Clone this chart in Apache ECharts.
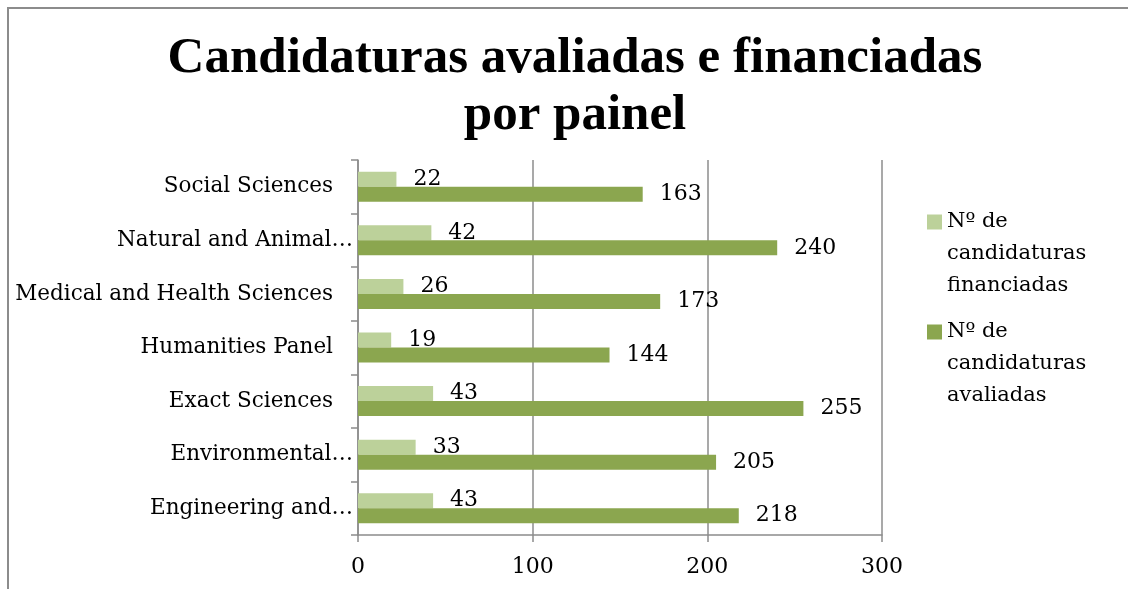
<!DOCTYPE html>
<html>
<head>
<meta charset="utf-8">
<script src="https://cdn.jsdelivr.net/npm/echarts@6/dist/echarts.min.js"></script>
<style>
  html, body { margin: 0; padding: 0; background: #fff; overflow: hidden; }
  #frame { position: absolute; left: 7px; top: 7px; width: 1300px; height: 700px; border: 2px solid #8c8c8c; }
  #main { position: absolute; left: 0; top: 0; width: 1128px; height: 589px; }
</style>
</head>
<body>
<div id="frame"></div>
<div id="main"></div>
<script>
// categorias (de baixo para cima)
var paineis = ['Engineering and…', 'Environmental…', 'Exact Sciences', 'Humanities Panel',
               'Medical and Health Sciences', 'Natural and Animal…', 'Social Sciences'];
var financiadas = [43, 33, 43, 19, 26, 42, 22];
var avaliadas = [218, 205, 255, 144, 173, 240, 163];
var xTicks = [0, 100, 200, 300];

var nomeFin = 'Nº de\ncandidaturas\nfinanciadas';
var nomeAva = 'Nº de\ncandidaturas\navaliadas';

var fonte = 'DejaVu Serif';

var myChart = echarts.init(document.getElementById('main'));

var option = {
    animation: false,
    title: {
        text: 'Candidaturas avaliadas e financiadas\npor painel',
        left: 570,
        textAlign: 'center',
        top: 25,
        textStyle: {
            fontFamily: 'Liberation Serif',
            fontWeight: 'bold',
            fontSize: 51,
            lineHeight: 57,
            color: '#000'
        }
    },
    grid: {
        left: 358,
        right: 246,
        top: 160,
        bottom: 54
    },
    legend: {
        orient: 'vertical',
        left: 922,
        top: 137,
        itemWidth: 15,
        itemHeight: 15,
        itemGap: -50,
        icon: 'rect',
        data: [nomeFin, nomeAva],
        // linhas vazias em cima para o quadrado ficar ao nivel da primeira linha
        formatter: function (n) { return '\n\n' + n; },
        textStyle: {
            fontFamily: fonte,
            fontSize: 21,
            lineHeight: 32,
            color: '#000'
        }
    },
    xAxis: {
        type: 'value',
        min: xTicks[0],
        max: xTicks[xTicks.length - 1],
        interval: 100,
        axisLine: { show: true, lineStyle: { color: '#8c8c8c', width: 1.5 } },
        axisTick: { show: true, length: 7, lineStyle: { color: '#8c8c8c', width: 1.5 } },
        splitLine: { show: true, lineStyle: { color: '#8c8c8c', width: 1.5 } },
        axisLabel: {
            margin: 21,
            fontFamily: fonte,
            fontSize: 22,
            color: '#000'
        }
    },
    yAxis: {
        type: 'category',
        data: paineis,
        axisLine: { show: true, lineStyle: { color: '#8c8c8c', width: 1.5 } },
        axisTick: { show: true, length: 7, lineStyle: { color: '#8c8c8c', width: 1.5 } },
        axisLabel: {
            margin: 5,
            fontFamily: fonte,
            fontSize: 21.5,
            color: '#000',
            formatter: function (v) {
                if (v.charAt(v.length - 1) === '…') return v;
                return '{p|' + v + '}';
            },
            rich: {
                p: { fontFamily: fonte, fontSize: 21.5, color: '#000', padding: [0, 20, 0, 0] }
            }
        }
    },
    series: [
        {
            name: nomeFin,
            type: 'bar',
            data: financiadas,
            color: '#bcd19a',
            barGap: '0%',
            barCategoryGap: '44%',
            label: {
                show: true,
                position: 'right',
                distance: 17,
                fontFamily: fonte,
                fontSize: 22,
                color: '#000'
            }
        },
        {
            name: nomeAva,
            type: 'bar',
            data: avaliadas,
            color: '#8ba64f',
            barGap: '0%',
            barCategoryGap: '44%',
            label: {
                show: true,
                position: 'right',
                distance: 17,
                fontFamily: fonte,
                fontSize: 22,
                color: '#000'
            }
        }
    ]
};

if (option && typeof option === "object") {
    myChart.setOption(option, true);
}
</script>
</body>
</html>
